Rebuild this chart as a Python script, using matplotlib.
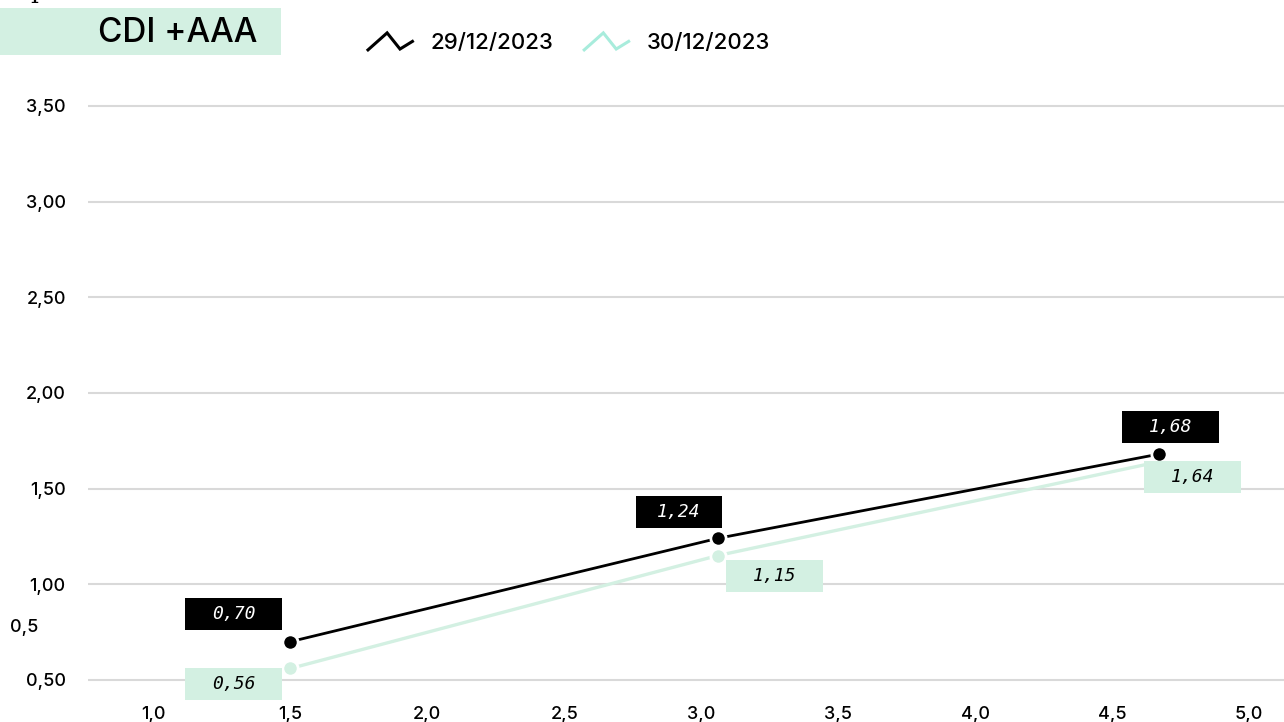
import matplotlib
matplotlib.use("Agg")
import matplotlib.pyplot as plt
import matplotlib.transforms as mtransforms
import numpy as np
from matplotlib.legend_handler import HandlerBase
from matplotlib.lines import Line2D
from matplotlib.patches import Rectangle

plt.rcParams["font.family"] = ["Inter", "DejaVu Sans"]

# data
durations = [1.5, 3.06, 4.67]
rates_2912 = [0.70, 1.24, 1.68]
rates_3012 = [0.56, 1.15, 1.64]
series_names = ["29/12/2023", "30/12/2023"]
chart_title = "CDI +AAA"
y_ticks = [0.5, 1.0, 1.5, 2.0, 2.5, 3.0, 3.5]
y_tick_labels = ["0,50", "1,00", "1,50", "2,00", "2,50", "3,00", "3,50"]
x_ticks = [1.0, 1.5, 2.0, 2.5, 3.0, 3.5, 4.0, 4.5, 5.0]
x_tick_labels = ["1,0", "1,5", "2,0", "2,5", "3,0", "3,5", "4,0", "4,5", "5,0"]

BLACK = "#000000"
MINT = "#d3f0e2"
MINT_LEGEND = "#a8ecdc"
GRID = "#d9d9d9"

# label box offsets (px) from the point, and box widths (px)
offsets_2912 = [(-57, 28), (-39, 26), (12, 27)]
offsets_3012 = [(-57, -16), (57, -20), (34, -15)]
widths_2912 = [97, 86, 97]
widths_3012 = [97, 97, 97]
box_h = 32


class ZigzagHandler(HandlerBase):
    def create_artists(self, legend, orig_handle, xdescent, ydescent,
                       width, height, fontsize, trans):
        xs = np.array([0.0, 0.43, 0.72, 1.0]) * width - xdescent
        ys = np.array([0.0, 1.0, 0.05, 0.5]) * height - ydescent
        line = Line2D(xs, ys, color=orig_handle.get_color(), lw=2.2,
                      solid_joinstyle="miter")
        line.set_transform(trans)
        return [line]


fig = plt.figure(figsize=(12.84, 7.22), dpi=100)
ax = fig.add_axes([88 / 1284, 1 - 705 / 722, 1 - 88 / 1284, (705 - 75) / 722])

ax.set_xlim(0.761, 5.128)
ax.set_ylim(0.369, 3.662)

ax.plot(durations, rates_3012, color=MINT, lw=2.4, marker="o", ms=11,
        mec="white", mew=2, zorder=3)
ax.plot(durations, rates_2912, color=BLACK, lw=2.0, marker="o", ms=11,
        mec="white", mew=2, zorder=4)


def add_labels(values, offsets, widths, face, text_color):
    for x, y, (dx, dy), w in zip(durations, values, offsets, widths):
        place = mtransforms.ScaledTranslation(x, y, ax.transData)
        rect = Rectangle((dx - w / 2, dy - box_h / 2), w, box_h,
                         transform=mtransforms.Affine2D() + place,
                         facecolor=face, edgecolor="none", zorder=5,
                         clip_on=False)
        ax.add_patch(rect)
        tt = mtransforms.offset_copy(ax.transData, fig, x=dx, y=dy, units="dots")
        ax.text(x, y, f"{y:.2f}".replace(".", ","), transform=tt,
                ha="center", va="center", color=text_color, fontsize=13,
                style="italic", family="DejaVu Sans Mono", zorder=6)


add_labels(rates_2912, offsets_2912, widths_2912, BLACK, "white")
add_labels(rates_3012, offsets_3012, widths_3012, MINT, BLACK)

ax.set_yticks(y_ticks, y_tick_labels)
ax.set_xticks(x_ticks, x_tick_labels)
ax.tick_params(axis="y", length=0, pad=16, labelsize=13)
ax.tick_params(axis="x", length=0, pad=1, labelsize=13)
for lbl in ax.get_xticklabels() + ax.get_yticklabels():
    lbl.set_fontweight("medium")
ax.grid(axis="y", color=GRID, lw=1.5)
ax.set_axisbelow(True)
for s in ax.spines.values():
    s.set_visible(False)

# title box
fig.patches.append(Rectangle((0, 1 - 55 / 722), 281 / 1284, 47 / 722,
                             transform=fig.transFigure, facecolor=MINT,
                             edgecolor="none"))
fig.text(178 / 1284, 1 - 33 / 722, chart_title, ha="center", va="center",
         fontsize=24, fontweight="medium")
fig.text(30 / 1284, 1.003, "p", va="baseline", fontsize=18, family="DejaVu Serif")
fig.text(10 / 1284, 1 - 627 / 722, "0,5", va="center", fontsize=13,
         fontweight="medium")

handles = [Line2D([], [], color=BLACK), Line2D([], [], color=MINT_LEGEND)]
fig.legend(handles, series_names, loc="center left",
           bbox_to_anchor=(348 / 1284, 1 - 43 / 722), ncol=2, frameon=False,
           prop={"size": 16, "weight": "medium"}, handlelength=2.0,
           handleheight=0.8, handletextpad=0.8, columnspacing=1.4,
           handler_map={Line2D: ZigzagHandler()})

fig.savefig("out.png", dpi=100)
